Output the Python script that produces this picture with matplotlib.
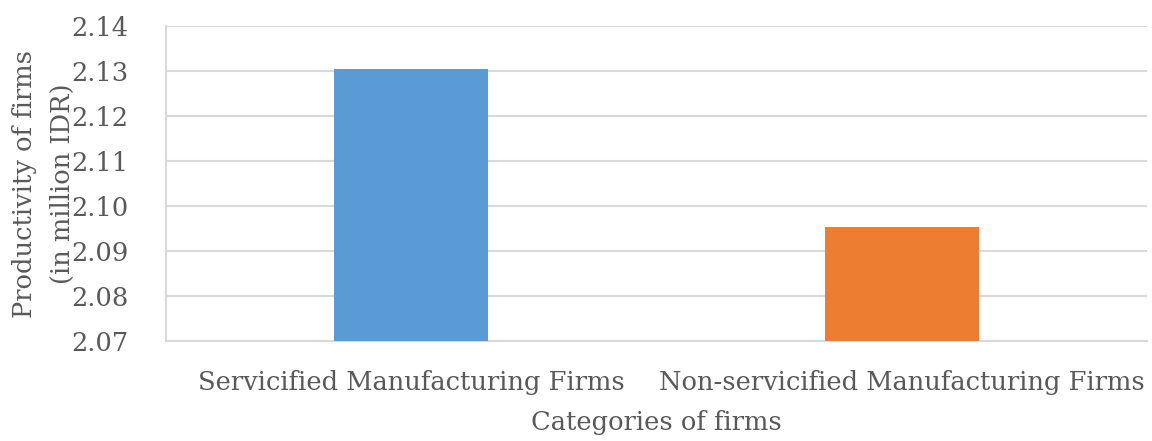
import matplotlib
matplotlib.use("Agg")
import matplotlib.pyplot as plt

categories = ["Servicified Manufacturing Firms", "Non-servicified Manufacturing Firms"]
values = [2.1304, 2.0953]
colors = ["#5B9BD5", "#ED7D31"]
yticks = [2.07, 2.08, 2.09, 2.10, 2.11, 2.12, 2.13, 2.14]

plt.rcParams['font.family'] = ['DejaVu Serif']
text_color = "#595959"
grid_color = "#D9D9D9"
fs = 18.5

fig = plt.figure(figsize=(11.52, 4.41), dpi=100)
ax = fig.add_axes([0.144, 0.2268, 0.8517, 0.7142])

x = list(range(len(categories)))
ax.bar(x, [v - yticks[0] for v in values], bottom=yticks[0], width=0.314, color=colors, zorder=3)
ax.set_xlim(-0.5, 1.5)
ax.set_ylim(yticks[0], yticks[-1])
ax.set_yticks(yticks)
ax.set_yticklabels([f"{t:.2f}" for t in yticks])
ax.set_xticks(x)
ax.set_xticklabels(categories)
ax.yaxis.grid(True, color=grid_color, linewidth=1.5, zorder=0)
for s in ["top", "right"]:
    ax.spines[s].set_visible(False)
for s in ["left", "bottom"]:
    ax.spines[s].set_color(grid_color)
    ax.spines[s].set_linewidth(1.5)
ax.tick_params(axis='both', length=0, labelsize=fs, colors=text_color)
ax.tick_params(axis='y', pad=27)
ax.tick_params(axis='x', pad=21)
ax.set_xlabel("Categories of firms", fontsize=fs, color=text_color, labelpad=11)
ax.set_ylabel("Productivity of firms\n(in million IDR)", fontsize=fs, color=text_color,
              labelpad=-3, linespacing=1.65)

fig.savefig("out.png", dpi=100)
